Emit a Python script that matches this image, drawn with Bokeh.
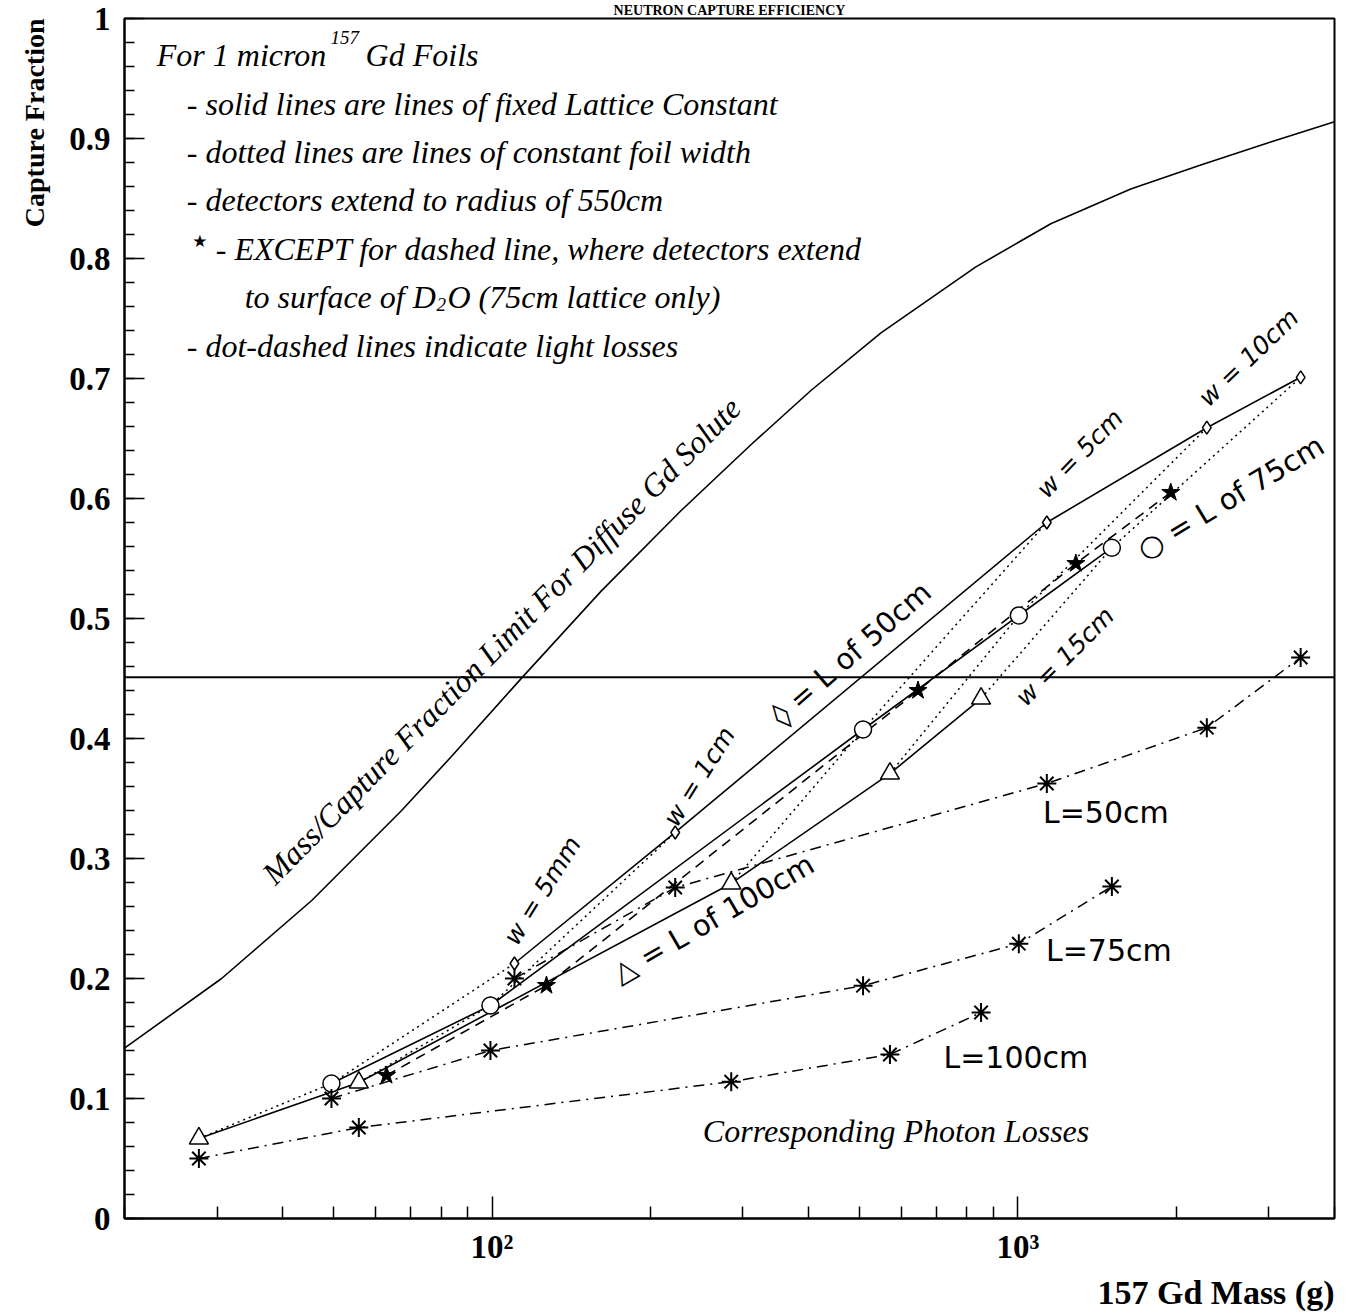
import numpy as np
from bokeh.plotting import figure
from bokeh.models import Range1d, FixedTicker, Span, Label, Title
from bokeh.embed import file_html
from bokeh.resources import INLINE

# ---------------- data ----------------
foil_widths = ["w = 5mm", "w = 1cm", "w = 5cm", "w = 10cm", "w = 15cm"]

# solid lines: fixed lattice constant (points at w = 5mm, 1cm, 5cm, 10cm, 15cm)
mass_L50 = [110.3, 223.0, 1135.0, 2287.0, 3449.0]
cap_L50 = [0.2125, 0.3217, 0.580, 0.659, 0.701]
mass_L75 = [49.5, 99.3, 507.6, 1004.0, 1509.0]
cap_L75 = [0.1125, 0.1775, 0.4075, 0.5025, 0.559]
mass_L100 = [27.7, 55.8, 285.0, 571.0, 851.0]
cap_L100 = [0.0667, 0.1133, 0.2792, 0.3708, 0.4333]

# dashed line: 75cm lattice, detectors extend to surface of D2O (stars)
mass_L75_ext = [63.0, 126.9, 645.7, 1289.0, 1953.0]
cap_L75_ext = [0.1192, 0.1942, 0.440, 0.5458, 0.605]

# dot-dashed lines: corresponding photon losses (asterisks)
loss_L50 = [0.200, 0.2758, 0.3625, 0.409, 0.4675]
loss_L75 = [0.100, 0.140, 0.194, 0.229, 0.2767]
loss_L100 = [0.050, 0.0758, 0.114, 0.1367, 0.1717]

# mass / capture fraction limit for diffuse Gd solute
diffuse_mass = [20.0, 30.6, 45.4, 67.3, 83.7, 114.7, 161.4, 228.9, 311.0, 404.0,
                549.0, 832.0, 1155.0, 1639.0, 2227.0, 3025.0, 4000.0]
diffuse_cap = [0.142, 0.200, 0.265, 0.340, 0.385, 0.452, 0.523, 0.590, 0.645, 0.690,
               0.738, 0.793, 0.829, 0.858, 0.878, 0.897, 0.914]

threshold_cap = 0.451

x_major = [100, 1000]
x_minor = [20, 30, 40, 50, 60, 70, 80, 90, 200, 300, 400, 500, 600, 700, 800, 900, 2000, 3000, 4000]
x_labels = {100: "10\u00b2", 1000: "10\u00b3"}
y_major = [0, 0.1, 0.2, 0.3, 0.4, 0.5, 0.6, 0.7, 0.8, 0.9, 1.0]
y_minor = [round(i * 0.02, 2) for i in range(51)]
y_labels = {0: "0", 1: "1"}

SERIF = "Liberation Serif"
SANS = "DejaVu Sans"

# ---------------- figure ----------------
p = figure(width=1351, height=1315, x_axis_type="log",
           x_range=Range1d(20, 4000), y_range=Range1d(0, 1),
           output_backend="svg", toolbar_location=None, title=None,
           min_border_left=123, min_border_right=17,
           min_border_top=18, min_border_bottom=97)
p.grid.visible = False
p.background_fill_color = "white"
p.border_fill_color = "white"
p.outline_line_color = "black"
p.outline_line_width = 2

for ax in (p.xaxis[0], p.yaxis[0]):
    ax.axis_line_width = 2
    ax.axis_line_color = "black"
    ax.major_tick_out = 0
    ax.minor_tick_out = 0
    ax.major_tick_line_width = 1.5
    ax.minor_tick_line_width = 1.5
    ax.major_label_text_font = SERIF
    ax.major_label_text_font_style = "bold"
    ax.major_label_text_font_size = "33px"
    ax.major_label_text_color = "black"

p.xaxis.ticker = FixedTicker(ticks=x_major, minor_ticks=x_minor)
p.xaxis.major_label_overrides = x_labels
p.xaxis.major_tick_in = 22
p.xaxis.minor_tick_in = 12
p.xaxis.major_label_standoff = 10

p.yaxis.ticker = FixedTicker(ticks=y_major, minor_ticks=y_minor)
p.yaxis.major_label_overrides = y_labels
p.yaxis.major_tick_in = 20
p.yaxis.minor_tick_in = 10
p.yaxis.major_label_standoff = 14

# titles outside the frame
p.add_layout(Title(text="NEUTRON CAPTURE EFFICIENCY", align="center", offset=23,
                   text_font=SERIF, text_font_style="bold", text_font_size="14px",
                   standoff=1, text_color="black"), "above")
p.add_layout(Title(text="Capture Fraction", align="right",
                   text_font=SERIF, text_font_style="bold", text_font_size="28px",
                   standoff=33, text_color="black"), "left")
p.add_layout(Title(text="157 Gd Mass (g)", align="right",
                   text_font=SERIF, text_font_style="bold", text_font_size="34px",
                   standoff=8, text_color="black"), "below")


# helpers mapping reference pixel positions (for text placement) to data space
def dx(px):
    return 10 ** (2 + (px - 490.6) / 526.4)


def dy(py):
    return (1218 - py) / 1200


def lab(text, px, py, angle=0, font=SANS, size=28, style="normal",
        align="center", baseline="middle"):
    p.add_layout(Label(x=dx(px), y=dy(py), text=text, angle=np.deg2rad(angle),
                       text_font=font, text_font_size=f"{size}px",
                       text_font_style=style, text_align=align,
                       text_baseline=baseline, text_color="black"))


# ---------------- lines ----------------
LW = 1.6
p.line(diffuse_mass, diffuse_cap, line_color="black", line_width=LW)
p.add_layout(Span(location=threshold_cap, dimension="width",
                  line_color="black", line_width=2))

# dotted: constant foil width
for i in range(len(foil_widths)):
    p.line([mass_L100[i], mass_L75[i], mass_L50[i]],
           [cap_L100[i], cap_L75[i], cap_L50[i]],
           line_color="black", line_width=1.5, line_dash="2 4")

# solid: fixed lattice constant
p.line(mass_L50, cap_L50, line_color="black", line_width=LW)
p.line(mass_L75, cap_L75, line_color="black", line_width=LW)
p.line(mass_L100, cap_L100, line_color="black", line_width=LW)

# dashed: 75cm lattice with detectors to D2O surface
p.line(mass_L75_ext, cap_L75_ext, line_color="black", line_width=LW, line_dash="10 7")

# dot-dashed: photon losses
for m, c in ((mass_L50, loss_L50), (mass_L75, loss_L75), (mass_L100, loss_L100)):
    p.line(m, c, line_color="black", line_width=1.5, line_dash="11 6 2 6")

# ---------------- markers ----------------
p.scatter(mass_L50, cap_L50, marker="diamond", size=13, fill_color="white",
          line_color="black", line_width=1.5)
p.scatter(mass_L75, cap_L75, marker="circle", size=17, fill_color="white",
          line_color="black", line_width=1.5)
p.scatter(mass_L100, cap_L100, marker="triangle", size=19, fill_color="white",
          line_color="black", line_width=1.5)
p.scatter(mass_L75_ext, cap_L75_ext, marker="star", size=19, fill_color="black",
          line_color="black", line_width=1)
for m, c in ((mass_L50, loss_L50), (mass_L75, loss_L75), (mass_L100, loss_L100)):
    p.scatter(m, c, marker="asterisk", size=19, line_color="black", line_width=2)

# ---------------- annotation text ----------------
IT = dict(font=SERIF, size=32, style="italic", align="left", baseline="alphabetic")
SUB = dict(font=SERIF, size=19, style="italic", align="left", baseline="alphabetic")
lab("For 1 micron", 155, 54, **IT)
lab("157", 329, 37, **SUB)
lab("Gd Foils", 364, 54, **IT)
lab("- solid lines are lines of fixed Lattice Constant", 185, 103, **IT)
lab("- dotted lines are lines of constant foil width", 185, 151, **IT)
lab("- detectors extend to radius of 550cm", 185, 199, **IT)
lab("\u2605", 198, 240, font=SANS, size=17)
lab("- EXCEPT for dashed line, where detectors extend", 214, 248, **IT)
lab("to surface of D", 243, 296, **IT)
lab("2", 435, 304, **SUB)
lab("O (75cm lattice only)", 446, 296, **IT)
lab("- dot-dashed lines indicate light losses", 185, 345, **IT)

lab("Mass/Capture Fraction Limit For Diffuse Gd Solute", 500, 640, angle=45.5,
    font=SERIF, size=32, style="italic")

lab(foil_widths[0], 541, 890, angle=58, size=25, style="italic")
lab(foil_widths[1], 698, 776, angle=58, size=25, style="italic")
lab(foil_widths[2], 1079, 453, angle=46, size=25, style="italic")
lab(foil_widths[3], 1248, 357, angle=44, size=25, style="italic")
lab(foil_widths[4], 1064, 656, angle=45, size=25, style="italic")

lab("\u25ca = L of 50cm", 850, 653, angle=41, size=29)
lab("\u25cb = L of 75cm", 1230, 497, angle=31, size=29)
lab("\u25b3 = L of 100cm", 712, 918, angle=30, size=29)

lab("L=50cm", 1105, 812, size=30)
lab("L=75cm", 1108, 950, size=30)
lab("L=100cm", 1015, 1057, size=30)
lab("Corresponding Photon Losses", 895, 1130, font=SERIF, size=32, style="italic")

open("out.html", "w").write(file_html(p, INLINE))
